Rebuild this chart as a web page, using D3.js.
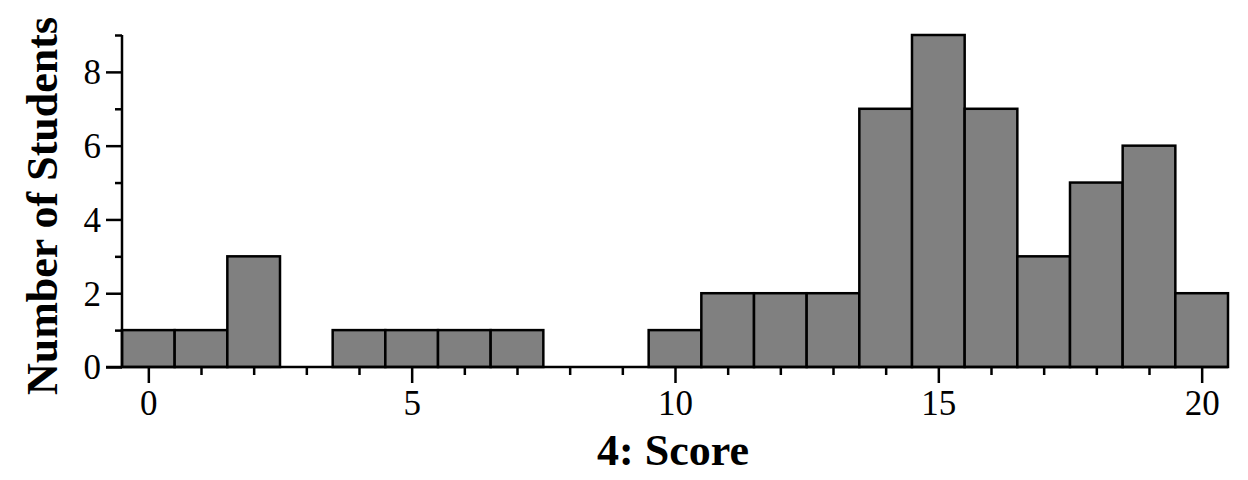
<!DOCTYPE html>
<html>
<head>
<meta charset="utf-8">
<script src="https://cdn.jsdelivr.net/npm/d3@7"></script>
<style>
  body { margin: 0; background: #fff; }
  svg text { font-family: "Liberation Serif", "Times New Roman", serif; fill: #000; }
  .axis path, .axis line { stroke: #000; stroke-width: 2.5; }
</style>
</head>
<body>
<script>
// histogram data: score bins and the number of students in each
let scores = d3.range(0, 21);
let counts = [1, 1, 3, 0, 1, 1, 1, 1, 0, 0, 1, 2, 2, 2, 7, 9, 7, 3, 5, 6, 2];
let xMajorTicks = [0, 5, 10, 15, 20];
let yMajorTicks = [0, 2, 4, 6, 8];
let yMinorTicks = [1, 3, 5, 7, 9];

let margin = { top: 35, right: 20, bottom: 113, left: 122 };
let width = 1248 - margin.left - margin.right;
let height = 480 - margin.top - margin.bottom;

let svg = d3.select('body').append('svg')
    .attr('width', 1248)
    .attr('height', 480)
  .append('g')
    .attr('transform', 'translate(' + margin.left + ',' + margin.top + ')');

let x = d3.scaleLinear().domain([-0.5, 20.5]).range([0, width]);
let y = d3.scaleLinear().domain([0, 9]).range([height, 0]);

let data = scores.map(function(s, i) { return { score: s, count: counts[i] }; });

// bars
svg.selectAll('rect.bar')
    .data(data.filter(function(d) { return d.count > 0; }))
  .enter().append('rect')
    .attr('class', 'bar')
    .attr('x', function(d) { return x(d.score - 0.5); })
    .attr('y', function(d) { return y(d.count); })
    .attr('width', function(d) { return x(d.score + 0.5) - x(d.score - 0.5); })
    .attr('height', function(d) { return y(0) - y(d.count); })
    .attr('fill', '#808080')
    .attr('stroke', '#000')
    .attr('stroke-width', 2.5);

// x axis: minor ticks at every integer, major ones labelled
svg.append('g')
    .attr('class', 'axis')
    .attr('transform', 'translate(0,' + height + ')')
    .call(d3.axisBottom(x).tickValues(scores.filter(function(s) { return xMajorTicks.indexOf(s) < 0; }))
      .tickSize(8).tickFormat(''))
    .select('.domain').remove();

let xMajor = svg.append('g')
    .attr('class', 'axis')
    .attr('transform', 'translate(0,' + height + ')')
    .call(d3.axisBottom(x).tickValues(xMajorTicks).tickSize(16).tickFormat(d3.format('d')));
xMajor.select('.domain').remove();
xMajor.selectAll('text').attr('font-size', 35).attr('dy', '0.71em').attr('y', 23);

// y axis
svg.append('g')
    .attr('class', 'axis')
    .call(d3.axisLeft(y).tickValues(yMinorTicks).tickSize(7).tickFormat(''))
    .select('.domain').remove();

let yMajor = svg.append('g')
    .attr('class', 'axis')
    .call(d3.axisLeft(y).tickValues(yMajorTicks).tickSize(16).tickFormat(d3.format('d')));
yMajor.select('.domain').remove();
yMajor.selectAll('text').attr('font-size', 35).attr('x', -21).attr('dy', '0.34em');

// axis lines
svg.append('line')
    .attr('x1', 0).attr('x2', 0)
    .attr('y1', y(9)).attr('y2', y(0))
    .attr('stroke', '#000').attr('stroke-width', 2.5);
svg.append('line')
    .attr('x1', -16).attr('x2', width)
    .attr('y1', y(0)).attr('y2', y(0))
    .attr('stroke', '#000').attr('stroke-width', 2.5);

// labels
svg.append('text')
    .attr('x', width / 2 - 2)
    .attr('y', height + 98)
    .attr('text-anchor', 'middle')
    .attr('font-size', 44)
    .attr('font-weight', 'bold')
    .text('4: Score');

svg.append('text')
    .attr('transform', 'translate(' + (57 - margin.left) + ',' + (206 - margin.top) + ') rotate(-90)')
    .attr('text-anchor', 'middle')
    .attr('font-size', 44)
    .attr('font-weight', 'bold')
    .text('Number of Students');
</script>
</body>
</html>
